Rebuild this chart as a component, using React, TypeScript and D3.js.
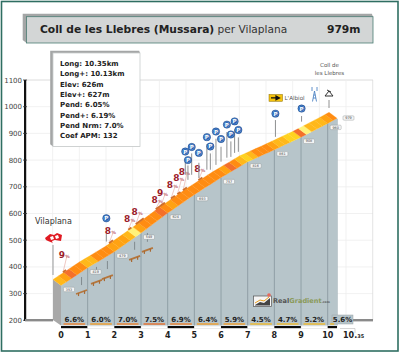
import React from "react";
import * as d3 from "d3";

const FONT = "'DejaVu Sans', sans-serif";
const kmTicks = [0, 1, 2, 3, 4, 5, 6, 7, 8, 9, 10];
const profileKm = [0, 1, 2, 3, 4, 5, 6, 7, 8, 9, 10, 10.35];
const profileElev = [353, 419, 479, 549, 624, 693, 757, 816, 861, 908, 960, 979];
const segmentGrades = [6.6, 6.0, 7.0, 7.5, 6.9, 6.4, 5.9, 4.5, 4.7, 5.2, 5.6];
const segmentLabels = ["6.6%", "6.0%", "7.0%", "7.5%", "6.9%", "6.4%", "5.9%", "4.5%", "4.7%", "5.2%", "5.6%"];
const elevTicks = [200, 300, 400, 500, 600, 700, 800, 900, 1000, 1100];
const ribbonStepKm = 0.2;
const ribbonGrades = [
  5.5, 6.5, 8.5, 7.5, 7.5, 5.5, 5.6, 7.5, 7.5, 7, 6.5, 6.5, 6, 5.6, 2, 6, 7, 7, 7.5, 8.6,
  7, 6, 7.5, 7.5, 7.5, 7, 7, 7.5, 7, 7.5, 7, 6, 8.6, 7.5, 5.5, 3, 5, 7, 7.5, 7.5, 6,
  5.5, 5.5, 4.5, 3, 8.6, 2, 5, 5, 5.5, 6.5, 7, 4,
];
const statLines: [string, string][] = [
  ["Long: ", "10.35km"], ["Long+: ", "10.13km"], ["Elev: ", "626m"], ["Elev+: ", "627m"],
  ["Pend: ", "6.05%"], ["Pend+: ", "6.19%"], ["Pend Nrm: ", "7.0%"], ["Coef APM: ", "132"],
];
const poiKm = [4.96, 5.2, 5.47, 5.06, 5.77, 5.9, 6.11, 6.3, 6.52, 6.67, 6.81, 6.95, 8.34, 9.32, 2.0];
const poiElev = [832, 849, 827, 800, 886, 851, 907, 879, 933, 896, 945, 913, 974, 993, 582];
const poiStemTop = [805, 825, 790, 780, 860, 825, 880, 850, 905, 870, 915, 885, 950, 965, 523];
const poiStemBottom = [745, 745, 733, 726, 764, 764, 782, 794, 809, 812, 827, 831, 887, 944, 495];
const gradeMarkKm = [0.37, 2.1, 2.82, 3.1, 3.85, 4.05, 4.42, 4.66, 4.87, 5.45];
const gradeMarkElev = [448, 535, 582, 608, 654, 680, 707, 733, 757, 768];
const gradeMarkText = ["9", "8", "8", "8", "8", "9", "8", "8", "8", "8"];
const gradeMarkSpan = [0.12, 0.15, 0.12, 0.3, 0.35, 0.12, 0.15, 0.12, 0.15, 0.15];
const benchKm = [1.07, 1.63, 2.04, 3.06, 3.54];
const benchElev = [306, 344, 362, 434, 464];
const benchStemTop = [362, 400, 422, 494, 527];
const benchStemBottom = [332, 381, 392, 464, 494];

const x = d3.scaleLinear().domain([0, 10]).range([53, 319.7]);
const y = d3.scaleLinear().domain([200, 1100]).range([320.3, 80]);
const DX = 8;
const DY = 6;
const elevAt = d3.scaleLinear().domain(profileKm).range(profileElev);
const gradeColor = d3.scaleThreshold<number, string>()
  .domain([3, 5, 5.8, 6.7, 7.8])
  .range(["#fff27a", "#ffd21f", "#ffb81a", "#ffa212", "#ff8c12", "#f4702a"]);
const underlineColor = d3.scaleThreshold<number, string>()
  .domain([5.9, 6.5, 7.3])
  .range(["#f5b81f", "#f59a20", "#ee7a22", "#e8661f"]);
const line = d3.line();

function Box3D({ x0, y0, x1, y1, d, fill }: any) {
  return (
    <g>
      <path d={`M${x0 - d},${y0 - d * 0.8}L${x1 - d * 0.3},${y0 - d * 0.8}L${x1},${y0}L${x1},${y1}L${x0},${y1}L${x0 - d},${y1 - d * 0.8}Z`} fill="#a4a6a6" />
      <rect x={x0} y={y0} width={x1 - x0} height={y1 - y0} fill={fill} stroke={fill === "#fff" ? "#c9cccc" : "#4c7d74"} strokeWidth={0.8} />
    </g>
  );
}

export default function App() {
  const gridX = d3.range(0, 14).map((i) => 26 + i * 26.67);
  const frontTop: [number, number][] = profileKm.map((k, i) => [x(k) + DX, y(profileElev[i]) + DY]);
  const fillPts: [number, number][] = [...frontTop, [x(10.35) + DX, 325.5], [x(0) + DX, 325.5]];
  return (
    <svg width={400} height={353} style={{ position: "absolute", left: 0, top: 0, background: "#fff" }} fontFamily={FONT}>
      <rect x={1.5} y={1.5} width={396.5} height={349.5} fill="#fff" stroke="#2f6e62" strokeWidth={1.6} />
      {/* grid */}
      {elevTicks.map((t) => (
        <line key={t} x1={25} x2={373} y1={y(t)} y2={y(t)} stroke={t === 1100 ? "#dcdcdc" : "#eeeeee"} strokeWidth={t === 1100 ? 1 : 0.8} />
      ))}
      {gridX.map((g, i) => (
        <line key={i} x1={g} x2={g} y1={80} y2={320} stroke={i === 13 ? "#dcdcdc" : "#eeeeee"} strokeWidth={0.8} />
      ))}
      {/* axis */}
      <rect x={24} y={80} width={2.2} height={241} fill="#111" />
      {elevTicks.map((t) => (
        <g key={t}>
          <line x1={23} x2={27} y1={y(t)} y2={y(t)} stroke="#333" strokeWidth={0.8} />
          <text x={22} y={y(t) + 2.5} textAnchor="end" fontSize={7} fill="#444">{t}</text>
        </g>
      ))}
      <rect x={25} y={319} width={28} height={2.4} fill="#8a8a8a" />
      <rect x={353} y={319} width={20} height={2.4} fill="#8a8a8a" />
      {/* side wall */}
      <path d={line([[x(0), y(353)], [x(0) + DX, y(353) + DY], [x(0) + DX, 325.5], [x(0), 320]])!} fill="#a8a8a8" />
      {/* body */}
      <path d={line(fillPts)! + "Z"} fill="#b7c5ca" />
      <path d={line([[x(10.35) + DX, y(979) + DY], [x(10.35) + DX + 0.7, y(979) + DY + 1], [x(10.35) + DX + 0.7, 325.5], [x(10.35) + DX, 325.5]])!} fill="#aab8bd" />
      {kmTicks.slice(1).map((k) => (
        <line key={k} x1={x(k) + DX} x2={x(k) + DX} y1={y(elevAt(k)) + DY} y2={325.5} stroke="#8b9ba1" strokeWidth={0.9} />
      ))}
      {/* ribbon */}
      {ribbonGrades.map((g, i) => {
        const k0 = i * ribbonStepKm;
        const k1 = Math.min(10.35, (i + 1) * ribbonStepKm);
        if (k0 >= 10.35) return null;
        const p = line([
          [x(k0), y(elevAt(k0))], [x(k1), y(elevAt(k1))],
          [x(k1) + DX, y(elevAt(k1)) + DY], [x(k0) + DX, y(elevAt(k0)) + DY],
        ])! + "Z";
        return <path key={i} d={p} fill={gradeColor(g)} stroke={gradeColor(g)} strokeWidth={0.25} />;
      })}
      {/* benches */}
      {benchKm.map((k, i) => {
        const cx = x(k), cy = y(benchElev[i]);
        return (
          <g key={i}>
            <line x1={cx} x2={cx} y1={y(benchStemTop[i])} y2={y(benchStemBottom[i])} stroke="#7a8488" strokeWidth={0.9} />
            <line x1={cx - 5.5} x2={cx + 5.5} y1={cy + 2} y2={cy - 2} stroke="#b5763c" strokeWidth={1.8} />
            {[-3, 3].map((o) => (
              <line key={o} x1={cx + o} x2={cx + o} y1={cy - o * 0.36} y2={cy - o * 0.36 + 3} stroke="#a86a34" strokeWidth={1.2} />
            ))}
          </g>
        );
      })}
      {/* elevation tags */}
      {kmTicks.map((k) => {
        const tx = x(k) + DX + 8, ty = y(elevAt(k)) + DY + 4;
        return (
          <g key={k}>
            <rect x={tx - 5.5} y={ty - 2.2} width={11} height={4.4} rx={1} fill="#f4f5f5" stroke="#8b8f90" strokeWidth={0.4} />
            <text x={tx} y={ty + 1.2} textAnchor="middle" fontSize={3.4} fill="#444">{Math.round(elevAt(k))}</text>
          </g>
        );
      })}
      <rect x={343} y={115.8} width={11} height={4.4} rx={1} fill="#f4f5f5" stroke="#8b8f90" strokeWidth={0.4} />
      <text x={348.5} y={119.2} textAnchor="middle" fontSize={3.4} fill="#444">979</text>
      {/* grade marks */}
      {gradeMarkKm.map((k, i) => {
        const bx = x(k), by = y(elevAt(k));
        const bx2 = x(k + gradeMarkSpan[i]), by2 = y(elevAt(k + gradeMarkSpan[i]));
        const tx = bx - 1, ty = y(gradeMarkElev[i]);
        return (
          <g key={i}>
            <line x1={tx + 5} x2={bx + 0.5} y1={ty + 2} y2={by - 2} stroke="#e8b0a8" strokeWidth={0.7} />
            <line x1={bx} x2={bx2} y1={by - 0.8} y2={by2 - 0.8} stroke="#d0702a" strokeWidth={1.8} />
            <text x={tx} y={ty + 3.5} textAnchor="middle" fontSize={9} fontWeight="bold" fill="#9b1c2b">{gradeMarkText[i]}</text>
            <text x={tx + 3.5} y={ty + 3.5} fontSize={4.5} fontWeight="bold" fill="#c0606a">%</text>
          </g>
        );
      })}
      {/* POI */}
      {poiKm.map((k, i) => (
        <line key={i} x1={x(k)} x2={x(k)} y1={y(poiStemTop[i])} y2={y(poiStemBottom[i])} stroke="#8d8f90" strokeWidth={1} />
      ))}
      {poiKm.map((k, i) => (
        <g key={i}>
          <circle cx={x(k)} cy={y(poiElev[i])} r={3.7} fill="#1f5fb4" stroke="#16407e" strokeWidth={0.4} />
          <circle cx={x(k)} cy={y(poiElev[i])} r={2.8} fill="none" stroke="#cfe0f5" strokeWidth={0.3} />
          <text x={x(k)} y={y(poiElev[i]) + 2} textAnchor="middle" fontSize={5.5} fontWeight="bold" fill="#fff">P</text>
        </g>
      ))}
      {/* start */}
      <line x1={53} x2={53} y1={245} y2={275} stroke="#8d8f90" strokeWidth={0.9} />
      <text x={35} y={224} fontSize={8} fill="#333">Vilaplana</text>
      <path d="M45,238L50,234L54,235L57,233L62,235L61,241L55,240L53,243L48,241L46,240Z" fill="#e01a22" />
      <path d="M50,237L53,236L54,239L51,240ZM55,236L58,235L59,238L56,239ZM52,241L55,240L57,244L53,244Z" fill="#fff" />
      {/* summit icons */}
      <rect x={269} y={94.5} width={13.5} height={6.8} fill="#f4c20d" stroke="#8a6d00" strokeWidth={0.5} />
      <path d="M271,97.9L278,97.9M276,96L279.5,97.9L276,99.8Z" stroke="#111" strokeWidth={1.2} fill="#111" />
      <text x={284.5} y={100} fontSize={5.6} fill="#555">L'Albiol</text>
      <path d="M312.5,101.5L314.5,91L316.5,101.5M313,98H316M313.6,95H315.4M312,87L312,91M317,87L317,91" stroke="#4f84c4" strokeWidth={0.9} fill="none" />
      <path d="M325,96L329,91L333,96Z M327,90L331,92" stroke="#333" strokeWidth={1} fill="none" />
      <line x1={329} x2={329} y1={100} y2={108} stroke="#777" strokeWidth={0.8} />
      <text x={329.5} y={67} textAnchor="middle" fontSize={5.5} fill="#555">Coll de</text>
      <text x={329.5} y={75} textAnchor="middle" fontSize={5.5} fill="#555">les Llebres</text>
      {/* gradient labels */}
      <rect x={332} y={315} width={21} height={9} fill="#b7c5ca" stroke="#9aa5a8" strokeWidth={0.5} />
      {segmentGrades.map((g, i) => {
        const mid = x(Math.min(i + 0.5, 10.35 - 0.04)) + DX;
        const k0 = x(i) + DX + 2.5, k1 = x(Math.min(i + 1, 10.35)) + DX - 2.5;
        return (
          <g key={i}>
            <line x1={k0} x2={i === 10 ? k0 + 4 : k1} y1={324} y2={324} stroke={underlineColor(g)} strokeWidth={1.3} />
            <text x={i === 10 ? 342.5 : mid} y={322} textAnchor="middle" fontSize={7} fontWeight="bold" fill="#222">{segmentLabels[i]}</text>
          </g>
        );
      })}
      {/* km bar */}
      {kmTicks.map((k) => (
        <rect key={k} x={x(k) + DX} y={326} width={x(Math.min(k + 1, 10.35)) - x(k)} height={2.2}
          fill={k % 2 === 0 ? "#0a0a0a" : "#fff"} stroke={k % 2 === 0 ? "none" : "#ccc"} strokeWidth={0.4} />
      ))}
      <path d="M340,328.5H355V333" stroke="#bbb" strokeWidth={0.6} fill="none" />
      {kmTicks.map((k) => (
        <text key={k} x={x(k) + DX} y={338} textAnchor="middle" fontSize={8} fontWeight="bold" fill="#222">{k}</text>
      ))}
      <text x={343} y={338} fontSize={8} fontWeight="bold" fill="#222">10.<tspan fontSize={5}>35</tspan></text>
      {/* logo */}
      <rect x={253.5} y={296} width={18} height={10.5} fill="#f5f5f5" stroke="#555" strokeWidth={0.7} />
      <path d="M255,305L260,302L264,303L270,298V305.5H255Z" fill="#444" />
      <path d="M255,303L260,300L264,301L269,297" stroke="#e8a020" strokeWidth={1} fill="none" />
      <circle cx={269} cy={295} r={1.8} fill="#e8685a" />
      <text x={273} y={303} fontSize={6.6} fontWeight="bold" fill="#555">Real<tspan fill="#8a9a5a">Gradient</tspan><tspan fontSize={3} fill="#555">.com</tspan></text>
      {/* title */}
      <Box3D x0={26.5} y0={16.7} x1={373} y1={43} d={3.8} fill="#d3d6d6" />
      <text x={40} y={33.3} fontSize={10.7} fontWeight="bold" fill="#222">Coll de les Llebres (Mussara)</text>
      <text x={217.5} y={33.3} fontSize={10.6} fill="#333">per Vilaplana</text>
      <text x={327} y={33.3} fontSize={10.7} fontWeight="bold" fill="#222">979m</text>
      {/* stats */}
      <Box3D x0={53} y0={53} x1={140} y1={146.5} d={2.8} fill="#fff" />
      {statLines.map(([a, b], i) => (
        <text key={i} x={60} y={66 + i * 10.35} fontSize={7} fontWeight="bold" fill="#222">{a}{b}</text>
      ))}
    </svg>
  );
}
